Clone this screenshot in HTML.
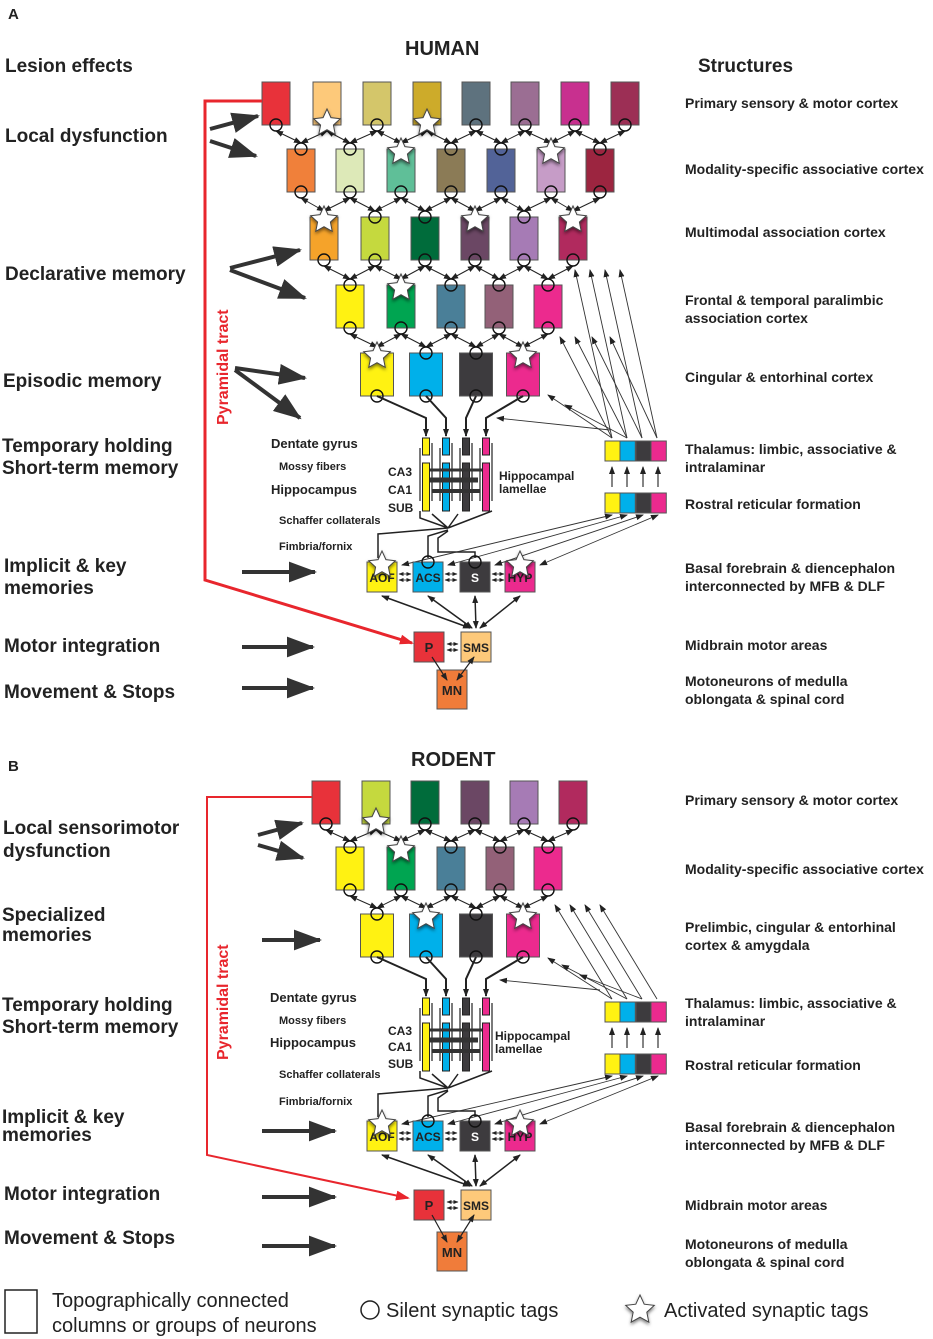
<!DOCTYPE html>
<html><head><meta charset="utf-8"><style>
html,body{margin:0;padding:0;background:#fff}
svg{display:block}
text{font-family:"Liberation Sans",sans-serif}
.L{font-size:19px;font-weight:bold;fill:#222}
.R{font-size:14px;font-weight:bold;fill:#222}
.S{font-size:12px;font-weight:bold;fill:#222}
.H{font-size:13px;font-weight:bold;fill:#222}
.T{font-size:20px;font-weight:bold;fill:#222}
.G{font-size:20px;fill:#222;font-family:"Liberation Sans",sans-serif}
</style></head><body>
<svg id="s" width="933" height="1339" viewBox="0 0 933 1339" xmlns="http://www.w3.org/2000/svg">
<defs>
<marker id="a" markerWidth="8" markerHeight="8" refX="7" refY="4" orient="auto-start-reverse" markerUnits="userSpaceOnUse"><path d="M0,1 L8,4 L0,7 Z" fill="#222"/></marker>
<marker id="sm" markerWidth="5" markerHeight="5" refX="4.5" refY="2.5" orient="auto-start-reverse" markerUnits="userSpaceOnUse"><path d="M0,0.5 L5,2.5 L0,4.5 Z" fill="#222"/></marker>
<marker id="big" markerWidth="7" markerHeight="5.2" refX="6.5" refY="2.6" orient="auto" markerUnits="strokeWidth"><path d="M0,0 L7,2.6 L0,5.2 Z" fill="#333"/></marker>
<marker id="red" markerWidth="14" markerHeight="10" refX="12" refY="5" orient="auto" markerUnits="userSpaceOnUse"><path d="M0,0 L14,5 L0,10 Z" fill="#e8262d"/></marker>
<filter id="sh" x="-50%" y="-50%" width="200%" height="200%"><feDropShadow dx="0" dy="2" stdDeviation="1.5" flood-color="#000" flood-opacity="0.5"/></filter>
</defs>
<g id="g"></g>
<text x="8" y="19" class="T" style="font-size:15px">A</text>
<text x="405" y="55" class="T">HUMAN</text>
<text x="5" y="72" class="L">Lesion effects</text>
<text x="698" y="72" class="L">Structures</text>
<text x="5" y="142" class="L">Local dysfunction</text>
<text x="5" y="280" class="L">Declarative memory</text>
<text x="3" y="387" class="L">Episodic memory</text>
<text x="2" y="452" class="L">Temporary holding</text>
<text x="2" y="474" class="L">Short-term memory</text>
<text x="4" y="572" class="L">Implicit &amp; key</text>
<text x="4" y="594" class="L">memories</text>
<text x="4" y="652" class="L">Motor integration</text>
<text x="4" y="698" class="L">Movement &amp; Stops</text>
<text x="685" y="108" class="R">Primary sensory &amp; motor cortex</text>
<text x="685" y="174" class="R">Modality-specific associative cortex</text>
<text x="685" y="237" class="R">Multimodal association cortex</text>
<text x="685" y="305" class="R">Frontal &amp; temporal paralimbic</text>
<text x="685" y="323" class="R">association cortex</text>
<text x="685" y="382" class="R">Cingular &amp; entorhinal cortex</text>
<text x="685" y="454" class="R">Thalamus: limbic, associative &amp;</text>
<text x="685" y="472" class="R">intralaminar</text>
<text x="685" y="509" class="R">Rostral reticular formation</text>
<text x="685" y="573" class="R">Basal forebrain &amp; diencephalon</text>
<text x="685" y="591" class="R">interconnected by MFB &amp; DLF</text>
<text x="685" y="650" class="R">Midbrain motor areas</text>
<text x="685" y="686" class="R">Motoneurons of medulla</text>
<text x="685" y="704" class="R">oblongata &amp; spinal cord</text>
<text x="271" y="448" class="H">Dentate gyrus</text>
<text x="279" y="470" class="S" style="font-size:11px">Mossy fibers</text>
<text x="271" y="494" class="H">Hippocampus</text>
<text x="388" y="476" class="S">CA3</text>
<text x="388" y="494" class="S">CA1</text>
<text x="388" y="512" class="S">SUB</text>
<text x="279" y="524" class="S" style="font-size:11px">Schaffer collaterals</text>
<text x="279" y="550" class="S" style="font-size:11px">Fimbria/fornix</text>
<text x="499" y="480" class="S">Hippocampal</text>
<text x="499" y="493" class="S">lamellae</text>
<text x="8" y="771" class="T" style="font-size:15px">B</text>
<text x="411" y="766" class="T">RODENT</text>
<text x="3" y="834" class="L">Local sensorimotor</text>
<text x="3" y="857" class="L">dysfunction</text>
<text x="2" y="921" class="L">Specialized</text>
<text x="2" y="941" class="L">memories</text>
<text x="2" y="1011" class="L">Temporary holding</text>
<text x="2" y="1033" class="L">Short-term memory</text>
<text x="2" y="1123" class="L">Implicit &amp; key</text>
<text x="2" y="1141" class="L">memories</text>
<text x="4" y="1200" class="L">Motor integration</text>
<text x="4" y="1244" class="L">Movement &amp; Stops</text>
<text x="685" y="805" class="R">Primary sensory &amp; motor cortex</text>
<text x="685" y="874" class="R">Modality-specific associative cortex</text>
<text x="685" y="932" class="R">Prelimbic, cingular &amp; entorhinal</text>
<text x="685" y="950" class="R">cortex &amp; amygdala</text>
<text x="685" y="1008" class="R">Thalamus: limbic, associative &amp;</text>
<text x="685" y="1026" class="R">intralaminar</text>
<text x="685" y="1070" class="R">Rostral reticular formation</text>
<text x="685" y="1132" class="R">Basal forebrain &amp; diencephalon</text>
<text x="685" y="1150" class="R">interconnected by MFB &amp; DLF</text>
<text x="685" y="1210" class="R">Midbrain motor areas</text>
<text x="685" y="1249" class="R">Motoneurons of medulla</text>
<text x="685" y="1267" class="R">oblongata &amp; spinal cord</text>
<text x="270" y="1002" class="H">Dentate gyrus</text>
<text x="279" y="1024" class="S" style="font-size:11px">Mossy fibers</text>
<text x="270" y="1047" class="H">Hippocampus</text>
<text x="388" y="1035" class="S">CA3</text>
<text x="388" y="1051" class="S">CA1</text>
<text x="388" y="1068" class="S">SUB</text>
<text x="279" y="1078" class="S" style="font-size:11px">Schaffer collaterals</text>
<text x="279" y="1105" class="S" style="font-size:11px">Fimbria/fornix</text>
<text x="495" y="1040" class="S">Hippocampal</text>
<text x="495" y="1053" class="S">lamellae</text>
<text x="0" y="0" class="L" style="fill:#e8262d;font-size:16px" transform="translate(228,425) rotate(-90)">Pyramidal tract</text>
<text x="0" y="0" class="L" style="fill:#e8262d;font-size:16px" transform="translate(228,1060) rotate(-90)">Pyramidal tract</text>
<rect x="5" y="1290" width="32" height="43" fill="#fff" stroke="#222" stroke-width="1.5"/>
<text x="52" y="1307" class="G">Topographically connected</text>
<text x="52" y="1332" class="G">columns or groups of neurons</text>
<circle cx="370" cy="1310" r="9" fill="none" stroke="#222" stroke-width="1.5"/>
<text x="386" y="1317" class="G">Silent synaptic tags</text>
<text x="664" y="1317" class="G">Activated synaptic tags</text>
</svg>
<script>
var g=document.getElementById('g'),NS='http://www.w3.org/2000/svg';
function el(n,a){var e=document.createElementNS(NS,n);for(var k in a)e.setAttribute(k,a[k]);g.appendChild(e);return e;}
function line(x1,y1,x2,y2,w,c,ms,me){var a={x1:x1,y1:y1,x2:x2,y2:y2,stroke:c||'#222','stroke-width':w||1};if(ms)a['marker-start']='url(#'+ms+')';if(me)a['marker-end']='url(#'+me+')';return el('line',a);}
function star(cx,cy,r){var p=[];for(var i=0;i<10;i++){var rr=i%2?r*0.48:r,an=-Math.PI/2+i*Math.PI/5;p.push((cx+rr*Math.cos(an)).toFixed(1)+','+(cy+rr*Math.sin(an)).toFixed(1));}el('polygon',{points:p.join(' '),fill:'#fff',stroke:'#444','stroke-width':1,filter:'url(#sh)'});}
function circ(cx,cy){el('circle',{cx:cx,cy:cy,r:6,fill:'none',stroke:'#111','stroke-width':1.4});}
function rows(R){
 for(var i=0;i<R.length;i++){var r=R[i];for(var j=0;j<r.xs.length;j++){el('rect',{x:r.xs[j]-r.w/2,y:r.y,width:r.w,height:43,fill:r.cols[j],stroke:'#555','stroke-width':1});}}
 for(var i=0;i<R.length-1;i++){var a=R[i],b=R[i+1];
  for(var j=0;j<b.xs.length;j++){var bx=b.xs[j],by=b.y;
   [j,j+1].forEach(function(k){if(k<a.xs.length){line(a.xs[k],a.y+49,bx,by-6,1,'#222','a','a');}});}}
 for(var i=0;i<R.length;i++){var r=R[i];for(var j=0;j<r.xs.length;j++){
   if(i>0){ if(r.st&&r.st.indexOf(j)>=0) star(r.xs[j],r.y+3,14); else circ(r.xs[j],r.y);}
   if(i<R.length-1){ if(r.sb&&r.sb.indexOf(j)>=0) star(r.xs[j],r.y+41,14); else circ(r.xs[j],r.y+43);}
   else circ(r.xs[j],r.y+43);
 }}
}
var Y='#fff212',C='#00b0ea',D='#3d3b3e',P='#ec2a8e';
rows([
 {y:82,w:28,xs:[276,327,377,427,476,525,575,625],cols:['#e8323a','#fdc97a','#d4c66a','#cdab2a','#5e727e','#9b6e93','#c8308f','#9c2f55'],sb:[1,3]},
 {y:149,w:28,xs:[301,350,401,451,501,551,600],cols:['#f0803a','#dde9b8','#5fbf98','#8b7b56','#526398','#c69cc7','#9c2540'],st:[2,5]},
 {y:217,w:28,xs:[324,375,425,475,524,573],cols:['#f5a32a','#c5d93e','#006c3b','#6b4764','#a67bb5','#b12a5e'],st:[0,3,5]},
 {y:285,w:28,xs:[350,401,451,499,548],cols:[Y,'#00a551','#4a7f98','#936178',P],st:[1]},
 {y:353,w:33,xs:[377,426,476,523],cols:[Y,C,D,P],st:[0,3]}
]);
rows([
 {y:781,w:28,xs:[326,376,425,475,524,573],cols:['#e8323a','#c5d93e','#006c3b','#6b4764','#a67bb5','#b12a5e'],sb:[1]},
 {y:847,w:28,xs:[350,401,451,500,548],cols:[Y,'#00a551','#4a7f98','#936178',P],st:[1]},
 {y:914,w:33,xs:[377,426,476,523],cols:[Y,C,D,P],st:[1,3]}
]);
function lower(hy,thy,ay,py,my,fromY){
 var hx=[426,446,466,486],cols=[Y,C,D,P],rx=[377,426,476,523];
 for(var i=0;i<4;i++){el('polyline',{points:rx[i]+','+fromY+' '+hx[i]+','+(fromY+22)+' '+hx[i]+','+(hy-2),fill:'none',stroke:'#222','stroke-width':2,'marker-end':'url(#a)'});}
 for(var i=0;i<4;i++){el('rect',{x:hx[i]-3.5,y:hy,width:7,height:17,fill:cols[i],stroke:'#222'});
  line(hx[i]-6,hy+10,hx[i]-6,hy+63,1.2);line(hx[i]+6,hy+5,hx[i]+6,hy+63,1.2);
  el('rect',{x:hx[i]-3.5,y:hy+25,width:7,height:48,fill:cols[i],stroke:'#222'});}
 line(430,hy+32,482,hy+32,3,'#333');line(430,hy+42,478,hy+42,5,'#333');line(480,hy+53,432,hy+53,4,'#333');
 el('path',{d:'M420,'+(hy+73)+' L420,'+(hy+80)+' L448,'+(hy+90)+' M432,'+(hy+76)+' L448,'+(hy+90)+' M458,'+(hy+76)+' L448,'+(hy+90)+' M492,'+(hy+73)+' L448,'+(hy+90),fill:'none',stroke:'#222','stroke-width':1.5});
 el('path',{d:'M448,'+(hy+90)+' L378,'+(hy+96)+' L378,'+(ay-4)+' M448,'+(hy+92)+' L428,'+(hy+98)+' L428,'+(ay-4)+' M448,'+(hy+93)+' L438,'+(hy+100)+' L438,'+(ay-10)+' L475,'+(ay-10)+' L475,'+(ay-4),fill:'none',stroke:'#222','stroke-width':1.5});
 var tx=[605,620,636,651];
 for(var i=0;i<4;i++){el('rect',{x:tx[i],y:thy,width:15.3,height:20,fill:cols[i],stroke:'#555'});el('rect',{x:tx[i],y:thy+52,width:15.3,height:20,fill:cols[i],stroke:'#555'});
  line(tx[i]+7,thy+46,tx[i]+7,thy+26,1.2,'#333',null,'a');}
 var ax=[382,428,475,520];
 for(var i=0;i<4;i++){line(tx[i]+7,thy+74,ax[i]+20,ay+3,0.9,'#333','a','a');}
 var lab=['AOF','ACS','S','HYP'];
 for(var i=0;i<4;i++){el('rect',{x:ax[i]-15,y:ay,width:30,height:30,fill:cols[i],stroke:'#555'});
  var t=el('text',{x:ax[i],y:ay+20,'text-anchor':'middle','font-size':12,'font-weight':'bold',fill:i==2?'#fff':'#222'});t.textContent=lab[i];
  if(i<3){line(ax[i]+17,ay+12,ax[i]+29,ay+12,0.8,'#222','sm','sm');line(ax[i]+17,ay+18,ax[i]+29,ay+18,0.8,'#222','sm','sm');}}
 star(ax[0],ay+3,14);star(ax[3],ay+3,14);circ(ax[1],ay);circ(ax[2],ay);
 line(ax[0],ay+34,470,py-4,1.5,'#222','a','a');line(ax[1],ay+34,472,py-4,1.5,'#222','a','a');line(ax[2],ay+34,476,py-4,1.5,'#222','a','a');line(ax[3],ay+34,480,py-4,1.5,'#222','a','a');
 el('rect',{x:414,y:py,width:30,height:30,fill:'#e8323a',stroke:'#555'});el('rect',{x:461,y:py,width:30,height:30,fill:'#fdc97a',stroke:'#555'});
 var t=el('text',{x:429,y:py+20,'text-anchor':'middle','font-size':13,'font-weight':'bold',fill:'#222'});t.textContent='P';
 t=el('text',{x:476,y:py+20,'text-anchor':'middle','font-size':12,'font-weight':'bold',fill:'#222'});t.textContent='SMS';
 line(447,py+12,458,py+12,0.8,'#222','sm','sm');line(447,py+18,458,py+18,0.8,'#222','sm','sm');
 el('rect',{x:437,y:my,width:30,height:39,fill:'#f07c3a',stroke:'#555'});
 t=el('text',{x:452,y:my+25,'text-anchor':'middle','font-size':13,'font-weight':'bold',fill:'#222'});t.textContent='MN';
 line(432,py+25,447,my+10,1.2,'#222',null,'a');line(474,py+25,457,my+10,1.2,'#222','a','a');
}
lower(438,441,562,632,670,396);
lower(998,1002,1121,1190,1232,957);
[[575,270],[590,270],[605,270],[620,270],[560,337],[575,337],[592,337],[610,337],[548,395],[565,405]].forEach(function(p,i){line(612+(i%4)*15,438,p[0],p[1],0.9,'#333',null,'a');});
line(610,430,497,418,0.9,'#333',null,'a');
[[555,905],[570,905],[585,905],[600,905],[548,958],[562,965],[580,975]].forEach(function(p,i){line(612+(i%4)*15,999,p[0],p[1],0.9,'#333',null,'a');});
line(600,990,500,980,0.9,'#333',null,'a');
function big(x1,y1,x2,y2){line(x1,y1,x2,y2,4,'#333',null,'big');}
big(210,129,258,116);big(210,141,256,156);big(230,268,300,250);big(230,270,305,298);
big(235,368,305,378);big(235,370,300,418);big(242,572,315,572);big(242,647,313,647);big(242,688,313,688);
big(258,835,302,823);big(258,845,303,858);big(262,940,320,940);big(262,1131,335,1131);big(262,1197,335,1197);big(262,1246,335,1246);
el('polyline',{points:'262,101 205,101 205,580 412,643',fill:'none',stroke:'#e8262d','stroke-width':3,'marker-end':'url(#red)'});
el('polyline',{points:'312,797 207,797 207,1155 408,1198',fill:'none',stroke:'#e8262d','stroke-width':2,'marker-end':'url(#red)'});
star(640,1310,15);
</script>
</body></html>
